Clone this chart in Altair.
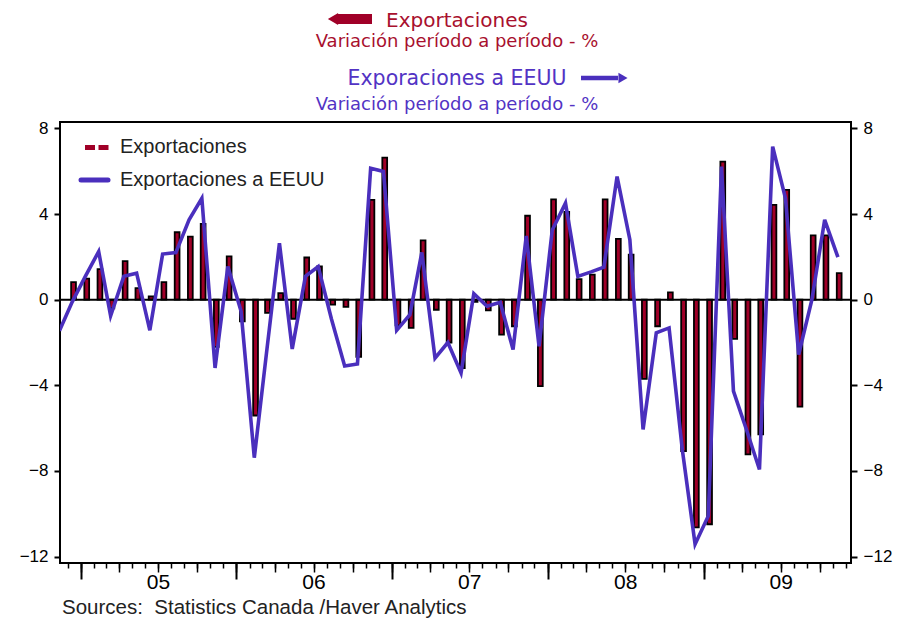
import altair as alt
import pandas as pd

# ---------------- data ----------------
months_bar = [str(p) for p in pd.period_range("2004-12", "2009-11", freq="M")]
months_line = [str(p) for p in pd.period_range("2004-11", "2009-11", freq="M")]

# Exportaciones, variación mensual (%), Dic-2004 .. Nov-2009
exportaciones = [
    0.82, 0.98, 1.43, -0.40, 1.80, 0.54, 0.15, 0.82, 3.15, 2.95, 3.54, -2.20,
    2.02, -1.01, -5.41, -0.62, 0.31, -0.89, 1.97, 1.55, -0.23, -0.34, -2.67, 4.66,
    6.64, -1.20, -1.32, 2.77, -0.47, -2.00, -3.19, -0.10, -0.50, -1.63, -1.24, 3.92,
    -4.04, 4.69, 4.10, 0.96, 1.17, 4.69, 2.84, 2.10, -3.70, -1.24, 0.34, -7.07,
    -10.64, -10.49, 6.45, -1.83, -7.23, -6.29, 4.43, 5.13, -5.00, 3.00, 3.00, 1.24,
]
# Exportaciones a EEUU, variación mensual (%), Nov-2004 .. Nov-2009
exportaciones_eeuu = [
    -1.45,
    -0.10, 1.10, 2.25, -0.75, 1.09, 1.24, -1.43, 2.13, 2.20, 3.73, 4.74, -3.19,
    1.55, -0.54, -7.38, -2.60, 2.64, -2.30, 1.09, 1.55, -0.90, -3.10, -3.00, 6.14,
    5.99, -1.43, -0.70, 2.21, -2.73, -2.00, -3.42, 0.28, -0.31, -0.12, -2.33, 2.98,
    -2.18, 3.26, 4.51, 1.09, 1.30, 1.52, 5.75, 2.80, -6.06, -1.55, -1.32, -7.00,
    -11.42, -10.10, 6.22, -4.27, -6.10, -7.93, 7.15, 4.74, -2.56, 0.00, 3.73, 1.99,
]
year_labels = ["05", "06", "07", "08", "09"]
y_ticks = [-12, -8, -4, 0, 4, 8]

RED = "#a00028"
BLUE = "#4a2fbd"
RED_TXT = "#a8102e"
BLUE_TXT = "#5233c4"


def ms(s):
    return int(pd.Timestamp(s, tz="UTC").value // 10**6)


bars_df = pd.DataFrame({"fecha": [m + "-15" for m in months_bar], "valor": exportaciones})
line_df = pd.DataFrame({"fecha": [m + "-12" for m in months_line], "valor": exportaciones_eeuu})

x_dom = [ms("2004-11-25"), ms("2009-12-01")]
xscale = alt.Scale(type="utc", domain=x_dom, nice=False)
yscale = alt.Scale(domain=[-12.3, 8.3], nice=False, zero=False)

all_months = pd.period_range("2004-12", "2009-12", freq="M")
month_ticks = [ms(f"{p}-01") for p in all_months]
quarter_ticks = [ms(f"{p}-01") for p in all_months if p.month in (1, 4, 7, 10)]
year_ticks = [ms(f"{y}-01-01") for y in range(2005, 2010)]
label_pos = [ms(f"{y}-07-01") for y in range(2005, 2010)]


def xaxis(values, size, width=1.5):
    return alt.Axis(values=values, orient="bottom", tickSize=size, tickWidth=width, tickColor="black",
                    labels=False, domain=False, grid=False, title=None)


def yaxis(orient):
    return alt.Axis(values=y_ticks, orient=orient, tickSize=6, tickWidth=2, tickColor="black",
                    labelFont="Liberation Sans", labelFontSize=17, labelColor="black",
                    labelPadding=6, domain=False, grid=False, title=None)


bars = alt.Chart(bars_df).mark_bar(size=4.8, color=RED, stroke="black", strokeWidth=1.8).encode(
    x=alt.X("fecha:T", scale=xscale, axis=xaxis(month_ticks, 5)),
    y=alt.Y("valor:Q", scale=yscale, axis=yaxis("left")),
)

zero = alt.Chart(pd.DataFrame({"k": [0]})).mark_rule(color="black", strokeWidth=2).encode(
    y=alt.Y("k:Q", scale=yscale, axis=None)
)

line = alt.Chart(line_df).mark_line(color=BLUE, strokeWidth=3.6, clip=True).encode(
    x=alt.X("fecha:T", scale=xscale, axis=xaxis(quarter_ticks, 9)),
    y=alt.Y("valor:Q", scale=yscale, axis=yaxis("right")),
)

years = alt.Chart(bars_df).mark_point(opacity=0).encode(
    x=alt.X("fecha:T", scale=xscale, axis=xaxis(year_ticks, 16, 2)),
    y=alt.Y("valor:Q", scale=yscale, axis=None),
)

lab_expr = "[" + ",".join(f"'{s}'" for s in year_labels) + "][utcyear(datum.value) - 2005]"
year_text = alt.Chart(bars_df).mark_point(opacity=0).encode(
    x=alt.X("fecha:T", scale=xscale,
            axis=alt.Axis(values=label_pos, orient="bottom", ticks=False, tickSize=0, labels=True,
                          labelExpr=lab_expr,
                          labelFont="Liberation Sans Narrow, Liberation Sans", labelFontSize=21,
                          labelColor="black", labelPadding=8, labelFlush=False, labelOverlap=False,
                          domain=False, grid=False, title=None)),
    y=alt.Y("valor:Q", scale=yscale, axis=None),
)

one = pd.DataFrame({"k": [0]})


def txt(s, x, y, size, color, font="DejaVu Sans", align="center"):
    return alt.Chart(one).mark_text(text=s, font=font, fontSize=size, color=color,
                                    align=align, baseline="alphabetic").encode(
        x=alt.value(x), y=alt.value(y))


def hrule(x1, x2, y, color, width, dash=None, cap="butt"):
    kw = dict(color=color, strokeWidth=width, strokeCap=cap)
    if dash:
        kw["strokeDash"] = dash
    return alt.Chart(one).mark_rule(**kw).encode(x=alt.value(x1), x2=alt.value(x2), y=alt.value(y))


def tri(x, y, shape, size, color):
    return alt.Chart(one).mark_point(shape=shape, filled=True, size=size, color=color, opacity=1).encode(
        x=alt.value(x), y=alt.value(y))


titles = [
    hrule(278, 312, -103, RED, 10),
    tri(273, -103, "triangle-left", 140, RED),
    txt("Exportaciones", 397, -95.5, 20, RED_TXT),
    txt("Variación período a período - %", 397, -75, 18, RED_TXT),
    txt("Exporaciones a EEUU", 397, -37, 20.5, BLUE_TXT),
    hrule(521, 558, -44, BLUE, 4.5),
    tri(563, -44, "triangle-right", 110, BLUE),
    txt("Variación período a período - %", 397, -12, 18, BLUE_TXT),
]

legend = [
    hrule(25, 49, 25.5, RED, 5, dash=[10, 3.5]),
    txt("Exportaciones", 60, 31, 20, "#222222", font="Liberation Sans", align="left"),
    hrule(21, 48, 58, BLUE, 5, cap="round"),
    txt("Exportaciones a EEUU", 60, 64, 20, "#222222", font="Liberation Sans", align="left"),
]

source = txt("Sources:\u00a0\u00a0Statistics Canada /Haver Analytics", 2, 492, 20.5, "#222222",
             font="Liberation Sans", align="left")

chart = alt.layer(
    bars, zero, line, years, year_text, *legend, *titles, source
).resolve_axis(
    x="independent", y="independent"
).properties(
    width=791, height=441,
    background="white",
    autosize=alt.AutoSizeParams(type="none"),
    padding={"left": 52, "top": 114, "right": 49, "bottom": 60},
).configure_view(
    stroke="black", strokeWidth=2
)

chart.save("out.html", embed_options={"renderer": "svg", "actions": False})
